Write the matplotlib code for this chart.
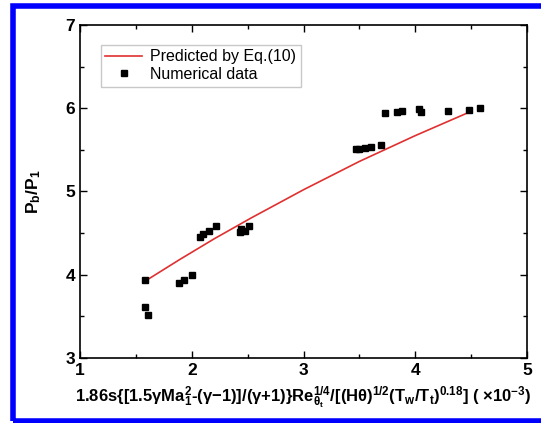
import numpy as np
import matplotlib
matplotlib.use("Agg")
import matplotlib.pyplot as plt
from matplotlib.patches import Rectangle

plt.rcParams['font.family'] = ['Liberation Sans', 'DejaVu Sans']
plt.rcParams['mathtext.fontset'] = 'custom'
plt.rcParams['mathtext.rm'] = 'Liberation Sans:bold'
plt.rcParams['mathtext.it'] = 'Liberation Sans:bold'
plt.rcParams['mathtext.bf'] = 'Liberation Sans:bold'
plt.rcParams['mathtext.default'] = 'bf'

# numerical data
x_num = [1.58, 1.58, 1.61, 1.89, 1.93, 2.00, 2.07, 2.10, 2.15, 2.22,
         2.43, 2.44, 2.48, 2.51, 3.47, 3.50, 3.55, 3.60, 3.69, 3.73,
         3.84, 3.88, 4.03, 4.05, 4.29, 4.48, 4.58]
y_num = [3.94, 3.61, 3.52, 3.90, 3.93, 4.00, 4.45, 4.49, 4.53, 4.58,
         4.51, 4.55, 4.53, 4.58, 5.51, 5.51, 5.52, 5.53, 5.56, 5.94,
         5.95, 5.97, 5.99, 5.96, 5.97, 5.98, 6.00]

# prediction by Eq.(10)
x_pred = [1.58, 1.89, 2.20, 2.53, 3.00, 3.50, 4.00, 4.48]
y_pred = [3.92, 4.18, 4.43, 4.68, 5.02, 5.36, 5.67, 5.95]

fig = plt.figure(figsize=(5.41, 4.23), dpi=100)
ax = fig.add_axes([0.148, 0.154, 0.826, 0.787])

ax.plot(x_pred, y_pred, color='#e03030', linewidth=1.2, label='Predicted by Eq.(10)')
ax.plot(x_num, y_num, 's', color='black', markersize=5, label='Numerical data')

ax.set_xlim(1, 5)
ax.set_ylim(3, 7)
ax.set_xticks([1, 2, 3, 4, 5])
ax.set_yticks([3, 4, 5, 6, 7])
ax.set_xticks(np.arange(1.5, 5, 1), minor=True)
ax.set_yticks(np.arange(3.5, 7, 1), minor=True)
ax.tick_params(which='both', direction='in', top=True, right=True,
               labelsize=12.5, width=1)
ax.tick_params(which='major', length=5)
ax.tick_params(which='minor', length=3)
for lab in ax.get_xticklabels() + ax.get_yticklabels():
    lab.set_fontweight('bold')
for sp in ax.spines.values():
    sp.set_linewidth(1.2)

ax.set_ylabel(r'P$_b$/P$_1$', fontsize=12.5, fontweight='bold', labelpad=16)
ax.set_xlabel(r'1.86s{[1.5$\gamma$Ma$_1^2$-($\gamma$$-$1)]/($\gamma$+1)}Re$_{\theta_t}^{1/4}$'
              r'/[(H$\theta$)$^{1/2}$(T$_w$/T$_t$)$^{0.18}$] ( ×10$^{-3}$)',
              fontsize=12, fontweight='bold', labelpad=5)

leg = ax.legend(loc='upper left', bbox_to_anchor=(0.028, 0.965), fontsize=11.5,
                fancybox=False, edgecolor='#bbbbbb', handlelength=2.3,
                borderpad=0.3, labelspacing=0.15, handletextpad=0.5)
leg.get_frame().set_linewidth(1.0)

fig.patches.append(Rectangle((12.5 / 541, 2.0 / 423), 540 / 541, 415 / 423,
                             transform=fig.transFigure, fill=False,
                             edgecolor='#0000ff', linewidth=4))

fig.savefig('out.png', dpi=100)
